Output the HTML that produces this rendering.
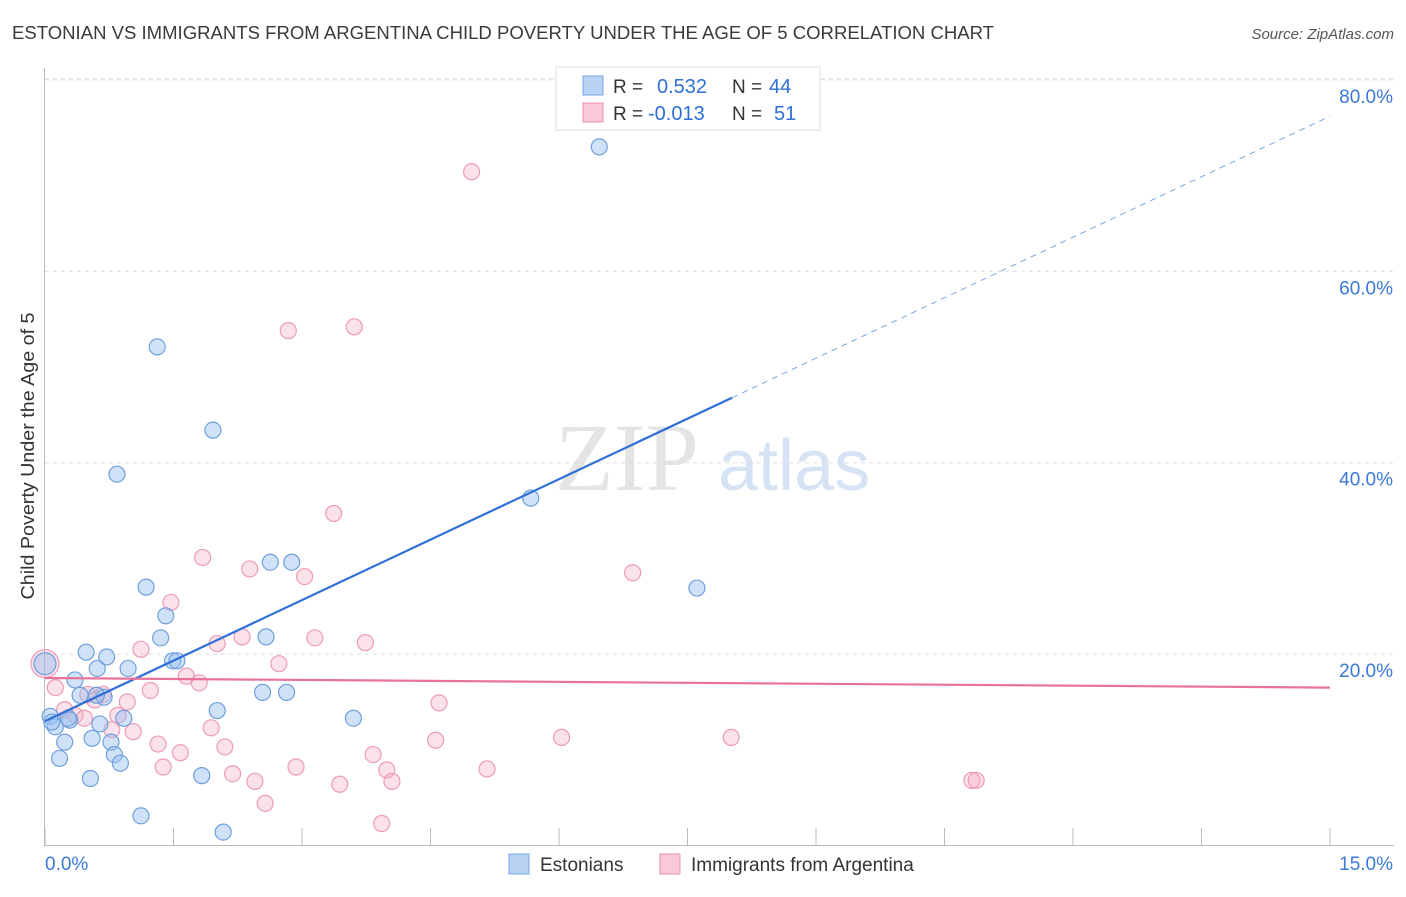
<!DOCTYPE html>
<html><head><meta charset="utf-8"><style>
body{margin:0;background:#fff;font-family:"Liberation Sans",sans-serif;}
svg text{font-family:"Liberation Sans",sans-serif;}
</style></head><body>
<svg id="chart" width="1406" height="892">
<text x="12" y="39" font-size="18" fill="#3a3a3a" textLength="982" lengthAdjust="spacingAndGlyphs">ESTONIAN VS IMMIGRANTS FROM ARGENTINA CHILD POVERTY UNDER THE AGE OF 5 CORRELATION CHART</text>
<text x="1394" y="39" font-size="15" fill="#555" font-style="italic" text-anchor="end">Source: ZipAtlas.com</text>
<text x="34" y="456" font-size="18" fill="#333" text-anchor="middle" textLength="287" lengthAdjust="spacingAndGlyphs" transform="rotate(-90 34 456)">Child Poverty Under the Age of 5</text>
<g>
<text x="555" y="490" font-size="96" fill="#e4e4e4" font-family="Liberation Serif" style="font-family:'Liberation Serif',serif">ZIP</text>
<text x="718" y="490" font-size="72" fill="#d6e3f4">atlas</text>
</g>
<g id="grid"></g><g id="axes"></g><g id="points"></g><g id="lines"></g>
<g>
<rect x="556" y="67" width="264" height="63" fill="#fff" stroke="#ddd"/>
<rect x="583" y="76" width="20" height="19" fill="#b8d3f4" stroke="#7aa6e0"/>
<text x="613" y="93" font-size="19" fill="#333">R = </text><text x="657" y="93" font-size="20" fill="#2f6fd6">0.532</text>
<text x="732" y="93" font-size="19" fill="#333">N = </text><text x="769" y="93" font-size="20" fill="#2f6fd6">44</text>
<rect x="583" y="103" width="20" height="19" fill="#f9c9d8" stroke="#e990ad"/>
<text x="613" y="120" font-size="19" fill="#333">R = </text><text x="648" y="120" font-size="20" fill="#2f6fd6">-0.013</text>
<text x="732" y="120" font-size="19" fill="#333">N = </text><text x="774" y="120" font-size="20" fill="#2f6fd6">51</text>
</g>
<g>
<rect x="509" y="854" width="20" height="20" fill="#b8d3f4" stroke="#7aa6e0"/>
<text x="540" y="871" font-size="19" fill="#333">Estonians</text>
<rect x="660" y="854" width="20" height="20" fill="#f9c9d8" stroke="#e990ad"/>
<text x="691" y="871" font-size="19" fill="#333">Immigrants from Argentina</text>
</g>
</svg>
<script>
const xTicks=[0,1.5,3,4.5,6,7.5,9,10.5,12,13.5,15];
const yTicks=[20,40,60,80];
const blueX=[0,0.06,0.12,0.17,0.23,0.29,0.35,0.41,0.48,0.53,0.55,0.61,0.64,0.69,0.72,0.77,0.81,0.84,0.88,0.92,0.97,1.12,1.18,1.31,1.35,1.41,1.49,1.54,1.83,1.96,2.01,2.08,2.54,2.58,2.63,2.82,2.88,3.6,5.67,6.47,7.61,0.27,0.08,0.6];
const blueY=[19,13.5,12.4,9.1,10.8,13.1,17.3,15.7,20.2,7,11.2,18.5,12.7,15.5,19.7,10.8,9.5,38.8,8.6,13.3,18.5,3.1,27,52.1,21.7,24,19.3,19.3,7.3,43.4,14.1,1.4,16,21.8,29.6,16,29.6,13.3,36.3,73,26.9,13.3,12.9,15.7];
const pinkX=[0,0.12,0.23,0.35,0.46,0.5,0.58,0.68,0.78,0.85,0.96,1.03,1.12,1.23,1.32,1.38,1.47,1.58,1.65,1.8,1.84,1.94,2.01,2.1,2.19,2.3,2.39,2.45,2.57,2.73,2.84,2.93,3.03,3.15,3.37,3.44,3.61,3.74,3.83,3.93,3.99,4.05,4.6,4.56,4.98,5.16,6.03,6.86,8.01,10.82,10.87];
const pinkY=[19,16.5,14.2,13.6,13.3,15.8,15.2,15.8,12.1,13.6,15,11.9,20.5,16.2,10.6,8.2,25.4,9.7,17.7,17,30.1,12.3,21.1,10.3,7.5,21.8,28.9,6.7,4.4,19,53.8,8.2,28.1,21.7,34.7,6.4,54.2,21.2,9.5,2.3,7.9,6.7,14.9,11,70.4,8,11.3,28.5,11.3,6.8,6.8];
const blueTrend=[13.0,76.2];
const pinkTrend=[17.5,16.5];
const blueSolidEnd=8.02;
const NS="http://www.w3.org/2000/svg";
const X=v=>45+v*(1285/15);
const Y=v=>845.5-v*9.57;
function mk(tag,attrs,parent){const e=document.createElementNS(NS,tag);for(const k in attrs)e.setAttribute(k,attrs[k]);document.getElementById(parent).appendChild(e);return e;}
yTicks.forEach(t=>{
 const g=mk('line',{x1:45,x2:1394,y1:Y(t),y2:Y(t),stroke:'#ddd','stroke-dasharray':'4,4'},'grid');
 
 
 const l=mk('text',{x:1393,y:Y(t)+23,'font-size':19,fill:'#3b78d8','text-anchor':'end'},'grid');
 l.textContent=t.toFixed(1)+'%';
 
 
});
const tg=mk('line',{x1:45,x2:1394,y1:79,y2:79,stroke:'#ddd','stroke-dasharray':'4,4'},'grid');


const ax=mk('line',{x1:45,x2:1394,y1:845.5,y2:845.5,stroke:'#bbb'},'axes');


const ay=mk('line',{x1:44.5,x2:44.5,y1:68,y2:846,stroke:'#bbb'},'axes');


xTicks.forEach(t=>{
 const k=mk('line',{x1:X(t),x2:X(t),y1:828,y2:846,stroke:'#bbb'},'axes');
 
 
});
[[0,'start'],[15,'end']].forEach(([t,a])=>{
 const l=mk('text',{x:t===0?45:1393,y:870,'font-size':19,fill:'#3b78d8','text-anchor':a},'axes');
 l.textContent=t.toFixed(1)+'%';
 
 
});
pinkX.forEach((x,i)=>{
 const c=mk('circle',{cx:X(x),cy:Y(pinkY[i]),r:i===0?14:8,fill:'rgba(244,170,195,0.35)',stroke:'#ec9bb6','stroke-width':1.2},'points');
 
 
});
blueX.forEach((x,i)=>{
 const c=mk('circle',{cx:X(x),cy:Y(blueY[i]),r:i===0?11:8,fill:'rgba(150,190,240,0.45)',stroke:'#6f9fdc','stroke-width':1.2},'points');
 
 
});
const bAt=x=>blueTrend[0]+(blueTrend[1]-blueTrend[0])*x/15;
const b1=mk('line',{x1:X(0),y1:Y(bAt(0)),x2:X(blueSolidEnd),y2:Y(bAt(blueSolidEnd)),stroke:'#2f6fd6','stroke-width':2.2},'lines');


const b2=mk('line',{x1:X(blueSolidEnd),y1:Y(bAt(blueSolidEnd)),x2:X(15),y2:Y(bAt(15)),stroke:'#7aa6e0','stroke-width':1,'stroke-dasharray':'6,5'},'lines');


const p1=mk('line',{x1:X(0),y1:Y(pinkTrend[0]),x2:X(15),y2:Y(pinkTrend[1]),stroke:'#e8729b','stroke-width':2.2},'lines');


</script>
</body></html>
